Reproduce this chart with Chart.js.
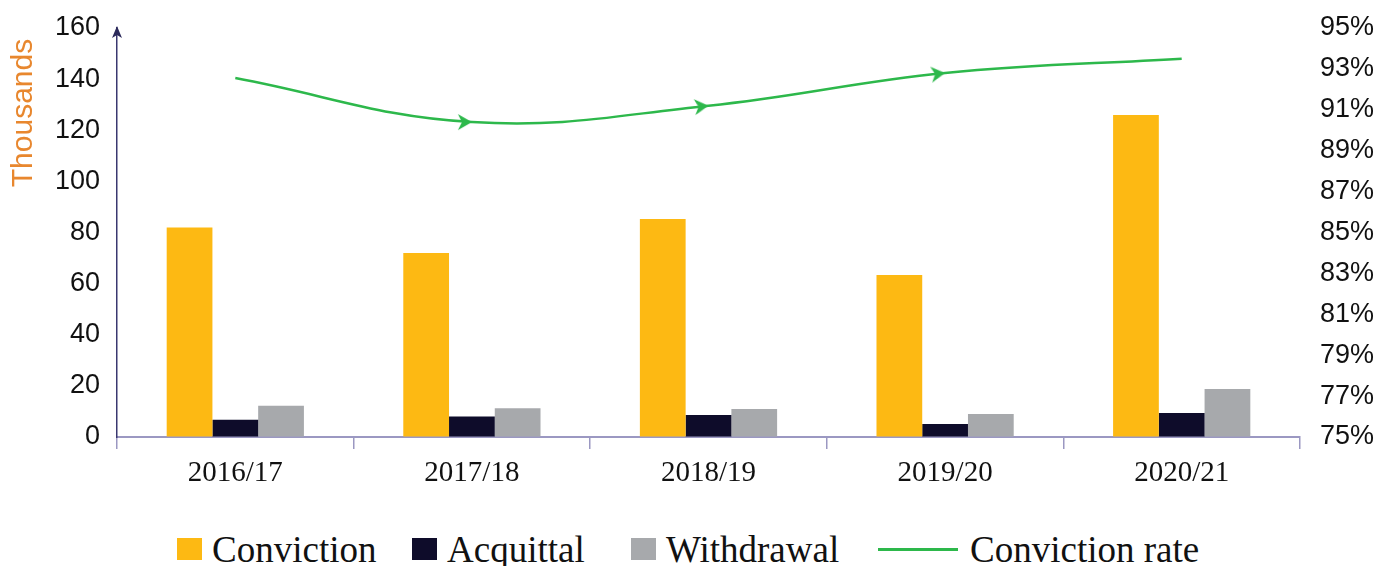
<!DOCTYPE html>
<html>
<head>
<meta charset="utf-8">
<script src="https://cdn.jsdelivr.net/npm/chart.js@4.4.1/dist/chart.umd.min.js"></script>
<style>
  html, body { margin: 0; padding: 0; background: #fff; }
  #wrap { position: relative; width: 1379px; height: 566px; }
  #chart { position: absolute; left: 0; top: 0; }
  .legend-item { position: absolute; top: 529px; height: 40px; display: flex; align-items: center;
    font-family: "Liberation Serif", "Times New Roman", serif; font-size: 37px; color: #111; white-space: nowrap; }
  .legend-box { display: inline-block; width: 25px; height: 22px; margin-right: 10px; }
  .legend-line { display: inline-block; width: 80px; height: 3px; margin-right: 12px; }
</style>
</head>
<body>
<div id="wrap">
  <canvas id="chart" width="1379" height="510"></canvas>
  <div id="legend"></div>
</div>
<script>
const years = ['2016/17', '2017/18', '2018/19', '2019/20', '2020/21'];
const conviction = [82, 72, 85.3, 63.4, 126];
const acquittal = [6.7, 8.0, 8.6, 5.1, 9.4];
const withdrawal = [12.2, 11.2, 11, 9, 18.8];
const convictionRate = [92.55, 90.4, 91.2, 92.8, 93.5];
const leftTicks = [0, 20, 40, 60, 80, 100, 120, 140, 160];
const rightTicks = [75, 77, 79, 81, 83, 85, 87, 89, 91, 93, 95];

const colors = {
    conviction: '#FDB913',
    acquittal: '#0E0C2A',
    withdrawal: '#A7A9AC',
    rate: '#2DB84B'
};

// arrow head used as point marker, tip sits at the point
const makeArrow = () => {
    const c = document.createElement('canvas');
    c.width = 36;
    c.height = 20;
    const g = c.getContext('2d');
    g.fillStyle = colors.rate;
    g.beginPath();
    g.moveTo(18, 10);
    g.lineTo(4, 2);
    g.lineTo(8, 10);
    g.lineTo(4, 18);
    g.closePath();
    g.fill();
    return c;
};
const arrow = makeArrow();

// arrow at top of left axis + rotated axis title
const axisDecor = {
    id: 'axisDecor',
    afterDraw(chart) {
        const {ctx, chartArea, scales} = chart;
        const x = scales.y.right;
        const top = chartArea.top - 2;
        ctx.save();
        ctx.fillStyle = '#2c2a5a';
        ctx.beginPath();
        ctx.moveTo(x, top);
        ctx.lineTo(x - 5, top + 12);
        ctx.lineTo(x, top + 9);
        ctx.lineTo(x + 5, top + 12);
        ctx.closePath();
        ctx.fill();

        ctx.translate(24, 113);
        ctx.rotate(-Math.PI / 2);
        ctx.fillStyle = '#E8872E';
        ctx.font = '30px "Liberation Sans"';
        ctx.textAlign = 'center';
        ctx.textBaseline = 'middle';
        ctx.fillText('Thousands', 0, 0);
        ctx.restore();
    }
};

const fixVertical = width => s => {
    s.width = width;
    s.paddingTop = 0;
    s.paddingBottom = 0;
};

const chart = new Chart(document.getElementById('chart').getContext('2d'), {
    data: {
        labels: years,
        datasets: [
            {
                type: 'line',
                label: 'Conviction rate',
                data: convictionRate,
                yAxisID: 'y1',
                borderColor: colors.rate,
                backgroundColor: colors.rate,
                borderWidth: 2.5,
                tension: 0.4,
                pointStyle: arrow,
                pointRadius: [0, 8, 8, 8, 0],
                pointRotation: [0, 0, -6, -7, 0],
                order: 0
            },
            {type: 'bar', label: 'Conviction', data: conviction, backgroundColor: colors.conviction, yAxisID: 'y', order: 1},
            {type: 'bar', label: 'Acquittal', data: acquittal, backgroundColor: colors.acquittal, yAxisID: 'y', order: 1},
            {type: 'bar', label: 'Withdrawal', data: withdrawal, backgroundColor: colors.withdrawal, yAxisID: 'y', order: 1}
        ]
    },
    options: {
        responsive: false,
        animation: false,
        datasets: {
            bar: {categoryPercentage: 0.58, barPercentage: 1}
        },
        layout: {padding: {top: 28, bottom: 13, left: 0, right: 0}},
        plugins: {
            legend: {display: false},
            tooltip: {enabled: false}
        },
        scales: {
            x: {
                offset: true,
                grid: {display: true, drawOnChartArea: false, tickLength: 12, color: '#9b98c2', lineWidth: 1.5},
                border: {display: true, color: '#9b98c2', width: 2},
                ticks: {color: '#111', padding: 7, font: {family: 'Liberation Serif', size: 29}},
                afterFit: s => { s.height = 60; }
            },
            y: {
                position: 'left',
                min: 0,
                max: 160,
                afterBuildTicks: s => { s.ticks = leftTicks.map(v => ({value: v})); },
                grid: {display: true, drawOnChartArea: false, drawTicks: false},
                border: {display: true, color: '#3a3870', width: 1.5},
                ticks: {color: '#111', padding: 17, font: {family: 'Liberation Sans', size: 27}},
                afterFit: fixVertical(117)
            },
            y1: {
                position: 'right',
                min: 75,
                max: 95,
                afterBuildTicks: s => { s.ticks = rightTicks.map(v => ({value: v})); },
                grid: {display: false, drawTicks: false},
                border: {display: false},
                ticks: {color: '#111', padding: 20, callback: v => v + '%', font: {family: 'Liberation Sans', size: 27}},
                afterFit: fixVertical(79)
            }
        }
    },
    plugins: [axisDecor]
});

// html legend built from the dataset labels
const legendPos = {Conviction: 177, Acquittal: 412, Withdrawal: 631, 'Conviction rate': 878};
const legendEl = document.getElementById('legend');
['Conviction', 'Acquittal', 'Withdrawal', 'Conviction rate'].forEach(name => {
    const ds = chart.data.datasets.find(d => d.label === name);
    const item = document.createElement('div');
    item.className = 'legend-item';
    item.style.left = legendPos[name] + 'px';
    const mark = document.createElement('span');
    if (ds.type === 'line') {
        mark.className = 'legend-line';
        mark.style.background = ds.borderColor;
    } else {
        mark.className = 'legend-box';
        mark.style.background = ds.backgroundColor;
    }
    item.appendChild(mark);
    item.appendChild(document.createTextNode(name));
    legendEl.appendChild(item);
});
</script>
</body>
</html>
